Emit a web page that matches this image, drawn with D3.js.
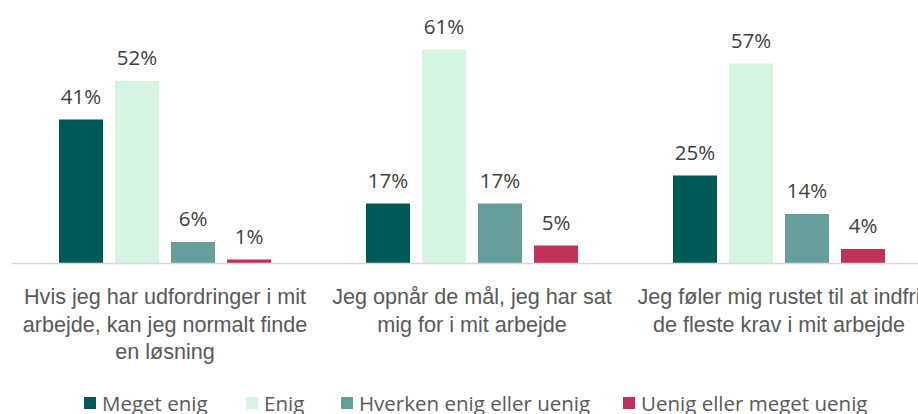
<!DOCTYPE html>
<html>
<head>
<meta charset="utf-8">
<script src="https://cdn.jsdelivr.net/npm/d3@7"></script>
<style>
  body { margin: 0; background: #fff; }
  svg { display: block; font-family: "Open Sans", "Noto Sans", sans-serif; }
</style>
</head>
<body>
<div id="container"></div>
<script>
const categories = [
  "Hvis jeg har udfordringer i mit arbejde, kan jeg normalt finde en løsning",
  "Jeg opnår de mål, jeg har sat mig for i mit arbejde",
  "Jeg føler mig rustet til at indfri de fleste krav i mit arbejde"
];
const categoryLines = [
  ["Hvis jeg har udfordringer i mit", "arbejde, kan jeg normalt finde", "en løsning"],
  ["Jeg opnår de mål, jeg har sat", "mig for i mit arbejde"],
  ["Jeg føler mig rustet til at indfri", "de fleste krav i mit arbejde"]
];
const seriesNames = ["Meget enig", "Enig", "Hverken enig eller uenig", "Uenig eller meget uenig"];
const megetEnig = [41, 17, 25];
const enig = [52, 61, 57];
const hverken = [6, 17, 14];
const uenig = [1, 5, 4];
const seriesValues = [megetEnig, enig, hverken, uenig];
const colors = ["#005a58", "#d5f5e2", "#669e9c", "#c0325a"];

const totalWidth = 918;
const totalHeight = 414;
const baseline = 263;

const svg = d3.select("#container")
  .append("svg")
  .attr("width", totalWidth)
  .attr("height", totalHeight);

const x0 = d3.scaleBand()
  .domain(categories)
  .range([11.5, 932.5])
  .padding(0);

const x1 = d3.scaleBand()
  .domain(seriesNames)
  .range([0, x0.bandwidth()])
  .paddingInner(0.214)
  .paddingOuter(0.848);

const y = d3.scaleLinear()
  .domain([0, 70])
  .range([baseline, 18]);

const rows = [];
categories.forEach((c, i) => {
  seriesNames.forEach((s, j) => {
    rows.push({ cat: c, series: s, value: seriesValues[j][i], color: colors[j] });
  });
});

// Bars
svg.append("g").selectAll("rect")
  .data(rows)
  .enter()
  .append("rect")
  .attr("x", d => x0(d.cat) + x1(d.series))
  .attr("y", d => y(d.value))
  .attr("width", x1.bandwidth())
  .attr("height", d => baseline - y(d.value))
  .attr("fill", d => d.color);

// Value labels
svg.append("g").selectAll("text")
  .data(rows)
  .enter()
  .append("text")
  .attr("x", d => x0(d.cat) + x1(d.series) + x1.bandwidth() / 2)
  .attr("y", d => y(d.value) - 16)
  .attr("text-anchor", "middle")
  .attr("fill", "#404040")
  .attr("font-size", 20.5)
  .text(d => d.value + "%");

// X axis
const xAxis = svg.append("g")
  .attr("transform", `translate(0,${baseline})`)
  .call(d3.axisBottom(x0).tickSize(0).tickFormat(""));
xAxis.select(".domain")
  .attr("stroke", "#d9d9d9")
  .attr("stroke-width", 1.5);

xAxis.selectAll(".tick text").remove();
xAxis.selectAll(".tick")
  .append("text")
  .attr("fill", "#595959")
  .attr("font-size", 21.6)
  .attr("text-anchor", "middle")
  .selectAll("tspan")
  .data((d, i) => categoryLines[i])
  .enter()
  .append("tspan")
  .attr("x", 0)
  .attr("y", (d, i) => 41 + i * 27.5)
  .text(d => d);

// Legend
const legendX = [84, 246, 341, 623];
const legend = svg.append("g").selectAll("g")
  .data(seriesNames)
  .enter()
  .append("g")
  .attr("transform", (d, i) => `translate(${legendX[i]},397)`);
legend.append("rect")
  .attr("width", 12)
  .attr("height", 12)
  .attr("fill", (d, i) => colors[i]);
legend.append("text")
  .attr("x", 18)
  .attr("y", 14)
  .attr("fill", "#595959")
  .attr("font-size", 20.5)
  .text(d => d);
</script>
</body>
</html>
